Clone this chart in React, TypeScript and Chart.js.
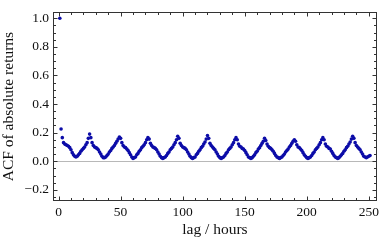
import React, { useEffect, useRef } from "react";
import { Chart, registerables } from "chart.js";

Chart.register(...registerables);

// ACF of absolute returns, one value per lag 0..250 (plotted at position lag+1, as in the source plot)
const acfValues: number[] = [
  1.0, 0.225, 0.165, 0.13, 0.12, 0.115, 0.11, 0.105, 0.095, 0.08,
  0.06, 0.045, 0.035, 0.03, 0.035, 0.045, 0.055, 0.07, 0.08, 0.09,
  0.10, 0.115, 0.13, 0.16, 0.19,
  0.165, 0.13, 0.11, 0.10, 0.095, 0.09, 0.08, 0.065, 0.05, 0.035, 0.025, 0.025, 0.03, 0.04, 0.05, 0.065, 0.075, 0.09, 0.10, 0.11, 0.125, 0.14, 0.155, 0.17,
  0.16, 0.13, 0.11, 0.10, 0.095, 0.085, 0.075, 0.06, 0.045, 0.03, 0.02, 0.025, 0.03, 0.045, 0.055, 0.07, 0.08, 0.095, 0.105, 0.115, 0.13, 0.15, 0.165,
  0.155, 0.125, 0.11, 0.10, 0.095, 0.09, 0.08, 0.065, 0.05, 0.035, 0.025, 0.02, 0.025, 0.03, 0.04, 0.055, 0.065, 0.08, 0.09, 0.10, 0.115, 0.13, 0.15, 0.175,
  0.16, 0.125, 0.11, 0.10, 0.095, 0.09, 0.08, 0.065, 0.05, 0.035, 0.025, 0.02, 0.025, 0.03, 0.045, 0.055, 0.07, 0.08, 0.095, 0.105, 0.12, 0.135, 0.155, 0.18,
  0.16, 0.125, 0.11, 0.10, 0.09, 0.08, 0.065, 0.05, 0.035, 0.025, 0.02, 0.025, 0.03, 0.04, 0.055, 0.065, 0.08, 0.09, 0.10, 0.115, 0.13, 0.15, 0.165,
  0.15, 0.12, 0.105, 0.10, 0.09, 0.085, 0.075, 0.06, 0.045, 0.03, 0.025, 0.02, 0.025, 0.035, 0.045, 0.06, 0.07, 0.085, 0.095, 0.11, 0.125, 0.14, 0.16,
  0.145, 0.12, 0.105, 0.095, 0.09, 0.08, 0.07, 0.055, 0.04, 0.03, 0.025, 0.02, 0.025, 0.03, 0.04, 0.05, 0.065, 0.075, 0.085, 0.10, 0.11, 0.125, 0.14, 0.15,
  0.14, 0.115, 0.10, 0.095, 0.085, 0.075, 0.06, 0.045, 0.035, 0.025, 0.02, 0.025, 0.03, 0.04, 0.055, 0.065, 0.08, 0.09, 0.10, 0.115, 0.13, 0.15, 0.165,
  0.15, 0.12, 0.105, 0.10, 0.09, 0.085, 0.07, 0.055, 0.04, 0.03, 0.025, 0.02, 0.025, 0.035, 0.045, 0.055, 0.07, 0.08, 0.095, 0.105, 0.12, 0.135, 0.155, 0.175,
  0.16, 0.13, 0.11, 0.10, 0.09, 0.08, 0.065, 0.05, 0.035, 0.03, 0.025, 0.03, 0.035, 0.04,
];

const xTickValues: number[] = [0, 50, 100, 150, 200, 250];
const xMinorTicks: number[] = [10, 20, 30, 40, 60, 70, 80, 90, 110, 120, 130, 140, 160, 170, 180, 190, 210, 220, 230, 240];
const yTickValues: number[] = [-0.2, 0, 0.2, 0.4, 0.6, 0.8, 1.0];
const yTickLabels: string[] = ["\u22120.2", "0.0", "0.2", "0.4", "0.6", "0.8", "1.0"];
const yMinorTicks: number[] = [-0.25, -0.15, -0.1, -0.05, 0.05, 0.1, 0.15, 0.25, 0.3, 0.35, 0.45, 0.5, 0.55, 0.65, 0.7, 0.75, 0.85, 0.9, 0.95];

const xTitle = "lag / hours";
const yTitle = "ACF of absolute returns";

const FONT = "'Liberation Serif', 'Times New Roman', serif";
const POINT_COLOR = "#0c0ca8";

const framePlugin = {
  id: "frameTicks",
  beforeDatasetsDraw(chart: any) {
    const { ctx, chartArea, scales } = chart;
    const y0 = Math.round(scales.y.getPixelForValue(0)) + 0.5;
    ctx.save();
    ctx.strokeStyle = "#b8b8b8";
    ctx.lineWidth = 1;
    ctx.beginPath();
    ctx.moveTo(chartArea.left, y0);
    ctx.lineTo(chartArea.right, y0);
    ctx.stroke();
    ctx.restore();
  },
  afterDraw(chart: any) {
    const { ctx, chartArea, scales } = chart;
    const L = Math.round(chartArea.left) + 0.5;
    const R = Math.round(chartArea.right) - 0.5;
    const T = Math.round(chartArea.top) + 0.5;
    const B = Math.round(chartArea.bottom) - 0.5;
    ctx.save();
    ctx.strokeStyle = "#333";
    ctx.lineWidth = 1;
    ctx.strokeRect(L, T, R - L, B - T);
    ctx.beginPath();
    const xt = (v: number, len: number) => {
      const px = Math.round(scales.x.getPixelForValue(v)) + 0.5;
      ctx.moveTo(px, B);
      ctx.lineTo(px, B - len);
      ctx.moveTo(px, T);
      ctx.lineTo(px, T + len);
    };
    const yt = (v: number, len: number) => {
      const py = Math.round(scales.y.getPixelForValue(v)) + 0.5;
      ctx.moveTo(L, py);
      ctx.lineTo(L + len, py);
      ctx.moveTo(R, py);
      ctx.lineTo(R - len, py);
    };
    xTickValues.forEach((v) => xt(v, 4));
    xMinorTicks.forEach((v) => xt(v, 2.5));
    yTickValues.forEach((v) => yt(v, 4));
    yMinorTicks.forEach((v) => yt(v, 2.5));
    ctx.stroke();
    ctx.restore();
  },
};

export default function App() {
  const ref = useRef<HTMLCanvasElement>(null);
  useEffect(() => {
    if (!ref.current) return;
    const points = acfValues.map((v, i) => ({ x: i + 1, y: v }));
    const chart = new Chart(ref.current, {
      type: "scatter",
      data: {
        datasets: [
          {
            data: points,
            backgroundColor: POINT_COLOR,
            borderColor: POINT_COLOR,
            borderWidth: 0,
            pointRadius: 1.8,
          },
        ],
      },
      options: {
        animation: false,
        responsive: false,
        devicePixelRatio: 1,
        layout: { padding: { top: 1, right: 4, left: 0, bottom: 0 } },
        plugins: { legend: { display: false }, tooltip: { enabled: false } },
        scales: {
          x: {
            type: "linear",
            min: -4.5,
            max: 256.5,
            grid: { display: false, drawTicks: false, tickLength: 0 },
            border: { display: false },
            afterBuildTicks: (s: any) => {
              s.ticks = xTickValues.map((v) => ({ value: v }));
            },
            afterFit: (s: any) => {
              s.height = 40;
            },
            ticks: {
              padding: 3,
              color: "#111",
              font: { family: FONT, size: 13.5 },
              maxRotation: 0,
              callback: (v: any) => String(v),
            },
            title: {
              display: true,
              text: xTitle,
              color: "#111",
              font: { family: FONT, size: 15.5 },
              padding: { top: 0, bottom: 2 },
            },
          },
          y: {
            type: "linear",
            min: -0.278,
            max: 1.043,
            grid: { display: false, drawTicks: false, tickLength: 0 },
            border: { display: false },
            afterBuildTicks: (s: any) => {
              s.ticks = yTickValues.map((v) => ({ value: v }));
            },
            afterFit: (s: any) => {
              s.width = 53;
            },
            ticks: {
              padding: 4,
              color: "#111",
              font: { family: FONT, size: 13.5 },
              callback: (v: any) => {
                const i = yTickValues.findIndex((t) => Math.abs(t - Number(v)) < 1e-9);
                return i >= 0 ? yTickLabels[i] : "";
              },
            },
            title: {
              display: true,
              text: yTitle,
              color: "#111",
              font: { family: FONT, size: 15.5 },
              padding: { top: 0, bottom: 0 },
            },
          },
        },
      },
      plugins: [framePlugin],
    });
    return () => chart.destroy();
  }, []);
  return (
    <div style={{ position: "fixed", left: 0, top: 0, width: 382, height: 241, background: "#fff" }}>
      <canvas ref={ref} width={382} height={241} style={{ width: 382, height: 241, display: "block" }} />
    </div>
  );
}
